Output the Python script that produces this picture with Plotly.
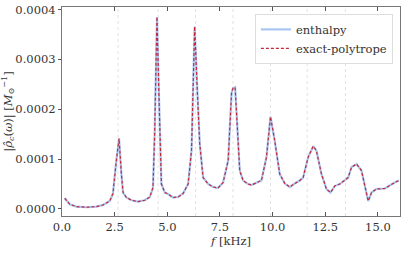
import plotly.graph_objects as go

# Frequencies (kHz) and |rho_c(omega)| values
freq_khz = [0.13, 0.37, 0.68, 1.16, 1.63, 1.95, 2.27, 2.42, 2.58, 2.71, 2.82, 2.90,
            3.06, 3.30, 3.61, 3.93, 4.17, 4.32, 4.40, 4.51, 4.61, 4.72, 4.88, 5.04,
            5.27, 5.51, 5.75, 5.99, 6.15, 6.22, 6.30, 6.41, 6.54, 6.70, 6.94, 7.18,
            7.41, 7.65, 7.89, 8.05, 8.12, 8.22, 8.33, 8.44, 8.60, 8.84, 9.00, 9.23,
            9.47, 9.71, 9.90, 10.10, 10.34, 10.58, 10.82, 11.05, 11.29, 11.45, 11.69,
            11.93, 12.08, 12.32, 12.56, 12.75, 12.95, 13.19, 13.43, 13.59, 13.75,
            13.99, 14.22, 14.38, 14.54, 14.70, 14.93, 15.33, 15.57, 15.80, 16.00]

enthalpy_vals = [2.15e-5, 0.94e-5, 0.47e-5, 0.34e-5, 0.47e-5, 0.80e-5, 1.6e-5, 3.1e-5,
                 9.7e-5, 14.1e-5, 7.0e-5, 3.3e-5, 2.3e-5, 1.75e-5, 1.48e-5, 1.75e-5,
                 2.4e-5, 4.3e-5, 15.1e-5, 38.5e-5, 21.8e-5, 5.0e-5, 3.3e-5, 3.0e-5,
                 2.3e-5, 2.4e-5, 3.1e-5, 5.0e-5, 11.7e-5, 25.2e-5, 36.6e-5, 25.2e-5,
                 13.1e-5, 6.3e-5, 5.0e-5, 4.4e-5, 4.2e-5, 5.3e-5, 9.7e-5, 23.2e-5,
                 24.2e-5, 24.4e-5, 15.1e-5, 7.7e-5, 5.7e-5, 5.0e-5, 4.8e-5, 5.3e-5,
                 5.7e-5, 10.4e-5, 18.5e-5, 13.7e-5, 7.0e-5, 5.1e-5, 4.4e-5, 5.1e-5,
                 5.7e-5, 6.3e-5, 10.4e-5, 12.6e-5, 11.7e-5, 7.0e-5, 4.0e-5, 3.3e-5,
                 4.6e-5, 5.0e-5, 5.7e-5, 6.3e-5, 8.4e-5, 9.0e-5, 7.7e-5, 4.3e-5,
                 1.6e-5, 3.3e-5, 4.0e-5, 4.1e-5, 4.8e-5, 5.3e-5, 5.7e-5]

# exact-polytrope curve lies on top of the enthalpy curve in the reference
polytrope_vals = list(enthalpy_vals)

# Mode frequencies marked with dotted vertical lines (kHz)
mode_freqs = [2.66, 4.56, 6.34, 8.12, 9.90, 11.64, 13.46]

x_ticks = [0.0, 2.5, 5.0, 7.5, 10.0, 12.5, 15.0]
y_ticks = [0.0, 0.0001, 0.0002, 0.0003, 0.0004]

FONT = "DejaVu Serif"

fig = go.Figure()
fig.add_trace(go.Scatter(x=freq_khz, y=enthalpy_vals, mode="lines", name="enthalpy",
                         line=dict(color="#a9c6f2", width=2.2)))
fig.add_trace(go.Scatter(x=freq_khz, y=polytrope_vals, mode="lines", name="exact-polytrope",
                         line=dict(color="#c0283c", width=1.2, dash="3px,2px")))

for f in mode_freqs:
    fig.add_vline(x=f, line=dict(color="#e3e3e3", width=1, dash="dot"), layer="below")

fig.update_layout(
    width=407, height=253,
    margin=dict(l=62, r=7, t=7, b=37),
    paper_bgcolor="white", plot_bgcolor="white",
    font=dict(family=FONT, size=11.5, color="#333333"),
    legend=dict(x=0.979, y=0.967, xanchor="right", yanchor="top",
                bgcolor="rgba(255,255,255,0.9)", bordercolor="#dddddd", borderwidth=1,
                font=dict(family=FONT, size=11.5, color="#333333"),
                tracegroupgap=2, itemwidth=30),
    xaxis=dict(range=[0, 16.05], tickvals=x_ticks,
               ticktext=[f"{v:.1f}" for v in x_ticks],
               showgrid=False, zeroline=False, automargin=False,
               ticks="inside", ticklen=4, tickcolor="#555555",
               showline=True, linecolor="#777777", linewidth=1.2, mirror="ticks",
               tickfont=dict(family=FONT, size=11.5),
               title=dict(text="<i>f</i> [kHz]", standoff=2,
                          font=dict(family=FONT, size=11.5))),
    yaxis=dict(range=[-0.0000141, 0.000405], tickvals=y_ticks,
               ticktext=[f"{v:.4f}" for v in y_ticks],
               showgrid=False, zeroline=False, automargin=False,
               ticks="outside", ticklen=3, tickcolor="#555555",
               showline=True, linecolor="#777777", linewidth=1.2, mirror=True,
               tickfont=dict(family=FONT, size=11.5),
               title=dict(text="|<i>ρ̂<sub>c</sub></i>(<i>ω</i>)| [<i>M</i><sub>⊙</sub><sup>−1</sup>]",
                          standoff=6, font=dict(family=FONT, size=11.5))),
)

fig.write_html("out.html", config={"displayModeBar": False},
               post_script="document.body.style.margin='0';document.body.style.padding='0';")
